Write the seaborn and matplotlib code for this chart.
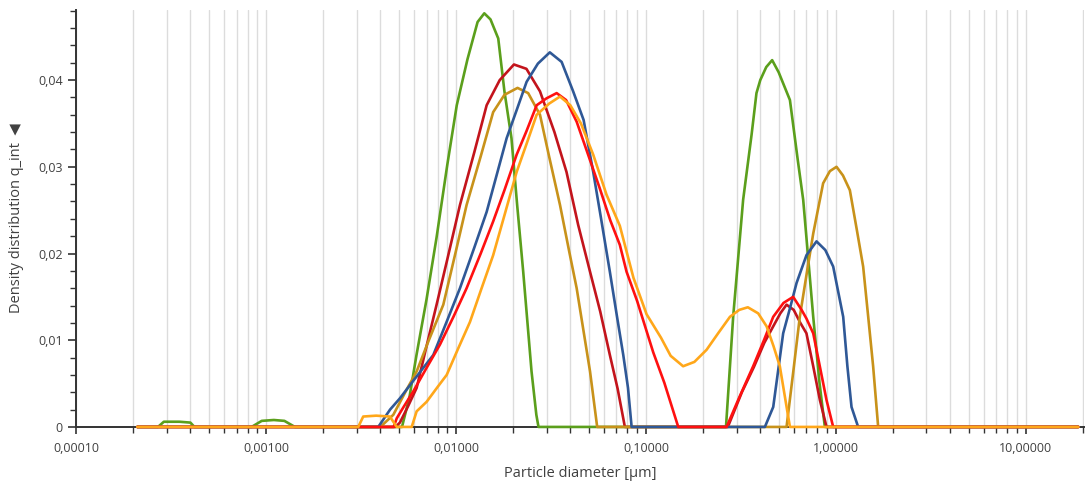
import pandas as pd
import seaborn as sns
import matplotlib
import matplotlib.pyplot as plt
from matplotlib.ticker import FuncFormatter, LogLocator, MultipleLocator, NullFormatter

matplotlib.use('Agg')

# Values (particle diameter in µm, q_int density)
green_x = [0.00021, 0.00027, 0.00029, 0.00035, 0.0004, 0.00042, 0.00084, 0.00095, 0.0011, 0.00125, 0.00142,
           0.0052, 0.0057, 0.0062, 0.007, 0.0079, 0.009, 0.0101, 0.0115, 0.013, 0.0141, 0.0152, 0.0167, 0.018,
           0.0196, 0.021, 0.0226, 0.025, 0.0265, 0.0272,
           0.264, 0.288, 0.325, 0.36, 0.382, 0.40, 0.43, 0.462, 0.50, 0.573, 0.63, 0.673, 0.76, 0.82, 0.875, 18.9]
green_y = [0, 0, 0.0006, 0.0006, 0.0005, 0, 0, 0.0007, 0.0008, 0.0007, 0,
           0, 0.0035, 0.0083, 0.0147, 0.0218, 0.0302, 0.0371, 0.0424, 0.0467, 0.0477, 0.0470, 0.0448, 0.0387,
           0.0333, 0.0256, 0.0179, 0.0064, 0.0014, 0,
           0, 0.0127, 0.0262, 0.0337, 0.0385, 0.0400, 0.0415, 0.0423, 0.0409, 0.0377, 0.0308, 0.0262, 0.0127, 0.0051, 0, 0]

darkred_x = [0.00021, 0.0048, 0.00507, 0.0056, 0.00621, 0.007, 0.00791, 0.009, 0.0105, 0.0125, 0.01451, 0.017,
             0.0202, 0.0235, 0.0277, 0.033, 0.0382, 0.044, 0.0508, 0.0575, 0.0646, 0.071, 0.0775,
             0.27, 0.32, 0.37, 0.42, 0.468, 0.51, 0.55, 0.60, 0.65, 0.70, 0.76, 0.824, 0.893, 18.9]
darkred_y = [0, 0, 0.0005, 0.0024, 0.0045, 0.0093, 0.0141, 0.0193, 0.0256, 0.0317, 0.0371, 0.0400,
             0.0418, 0.0413, 0.0387, 0.0340, 0.0294, 0.0233, 0.0179, 0.0133, 0.0083, 0.0044, 0,
             0, 0.0040, 0.0069, 0.0097, 0.0116, 0.0131, 0.0141, 0.0135, 0.0120, 0.0108, 0.0070, 0.0031, 0, 0]

gold_x = [0.00021, 0.0040, 0.00468, 0.0055, 0.00621, 0.0072, 0.00858, 0.0100, 0.01138, 0.0135, 0.0157, 0.018,
          0.0211, 0.024, 0.0277, 0.031, 0.0353, 0.0395, 0.0432, 0.047, 0.0508, 0.0554,
          0.55, 0.60, 0.646, 0.70, 0.76, 0.857, 0.93, 1.008, 1.09, 1.185, 1.29, 1.392, 1.48, 1.571, 1.67, 18.9]
gold_y = [0, 0, 0.0014, 0.0043, 0.0064, 0.0100, 0.0141, 0.0203, 0.0256, 0.0312, 0.0363, 0.0383,
          0.0391, 0.0385, 0.0360, 0.0311, 0.0256, 0.0202, 0.0160, 0.0110, 0.0064, 0,
          0, 0.0068, 0.0127, 0.0175, 0.0223, 0.0281, 0.0295, 0.0300, 0.0290, 0.0273, 0.0227, 0.0185, 0.0127, 0.0070, 0, 0]

blue_x = [0.00021, 0.0039, 0.0045, 0.00507, 0.006, 0.0076, 0.009, 0.0105, 0.0125, 0.01451, 0.0165, 0.01849,
          0.021, 0.02355, 0.027, 0.0312, 0.036, 0.0414, 0.047, 0.0528, 0.058, 0.0646, 0.070, 0.076, 0.0805, 0.0841,
          0.423, 0.468, 0.528, 0.58, 0.621, 0.70, 0.791, 0.88, 0.968, 1.093, 1.15, 1.209, 1.31, 18.9]
blue_y = [0, 0, 0.0020, 0.0033, 0.0054, 0.0083, 0.0123, 0.0160, 0.0207, 0.0248, 0.0293, 0.0333,
          0.0367, 0.0398, 0.0419, 0.0432, 0.0421, 0.0387, 0.0354, 0.0294, 0.0241, 0.0179, 0.0131, 0.0083, 0.0045, 0,
          0, 0.0023, 0.0108, 0.0141, 0.0166, 0.0198, 0.0214, 0.0204, 0.0185, 0.0127, 0.0070, 0.0023, 0, 0]

red_x = [0.00021, 0.0047, 0.00488, 0.0053, 0.00596, 0.007, 0.00824, 0.0097, 0.01138, 0.0135, 0.0157, 0.018,
         0.02087, 0.0235, 0.0266, 0.030, 0.0339, 0.038, 0.0432, 0.050, 0.0572, 0.065, 0.0729, 0.0791, 0.09,
         0.1093, 0.125, 0.148,
         0.266, 0.31, 0.367, 0.42, 0.468, 0.53, 0.596, 0.66, 0.70, 0.76, 0.83, 0.893, 0.968, 18.9]
red_y = [0, 0, 0.0010, 0.0023, 0.0041, 0.0068, 0.0095, 0.0127, 0.0160, 0.0200, 0.0237, 0.0273,
         0.0314, 0.0341, 0.0371, 0.0379, 0.0385, 0.0377, 0.0352, 0.0312, 0.0275, 0.0238, 0.0210, 0.0179, 0.0145,
         0.0086, 0.0051, 0,
         0, 0.0034, 0.0070, 0.0101, 0.0127, 0.0143, 0.0150, 0.0135, 0.0125, 0.0108, 0.0066, 0.0031, 0, 0]

orange_x = [0.00021, 0.00306, 0.00325, 0.0038, 0.00449, 0.00488, 0.00585, 0.00621, 0.00701, 0.0080, 0.00894,
            0.0103, 0.01185, 0.0136, 0.0157, 0.018, 0.02087, 0.0235, 0.0266, 0.031, 0.0353, 0.040, 0.0455,
            0.0528, 0.062, 0.0729, 0.086, 0.1008, 0.12, 0.135, 0.157, 0.18, 0.2087, 0.24, 0.277, 0.31, 0.344,
            0.39, 0.432, 0.47, 0.507, 0.573, 18.9]
orange_y = [0, 0, 0.0012, 0.0013, 0.0012, 0, 0, 0.0018, 0.0029, 0.0046, 0.0060,
            0.0091, 0.0121, 0.0159, 0.0198, 0.0244, 0.0294, 0.0326, 0.0360, 0.0373, 0.0381, 0.0371, 0.0350,
            0.0314, 0.0268, 0.0232, 0.0172, 0.0130, 0.0103, 0.0082, 0.0070, 0.0075, 0.0089, 0.0108, 0.0127,
            0.0135, 0.0138, 0.0131, 0.0116, 0.0093, 0.0070, 0, 0]

series = [
    ("s1", green_x, green_y, "#5b9f1c"),
    ("s2", darkred_x, darkred_y, "#c3141c"),
    ("s3", gold_x, gold_y, "#c8921a"),
    ("s4", blue_x, blue_y, "#2f5896"),
    ("s5", red_x, red_y, "#ff1010"),
    ("s6", orange_x, orange_y, "#ffa71a"),
]

frames = []
for name, xs, ys, _ in series:
    frames.append(pd.DataFrame({"diameter": xs, "q_int": ys, "sample": name}))
df = pd.concat(frames, ignore_index=True)
palette = {name: col for name, _, _, col in series}

sns.set_style("white")
plt.rcParams['font.family'] = ['Open Sans', 'DejaVu Sans']

fig = plt.figure(figsize=(10.86, 4.93), dpi=100)
ax = fig.add_axes([0.070, 0.134, 0.928, 0.846])

sns.lineplot(data=df, x="diameter", y="q_int", hue="sample", hue_order=list(palette),
             palette=palette, estimator=None, linewidth=1.9, legend=False, ax=ax)
for line in ax.lines:
    line.set_zorder(3)
    line.set_solid_joinstyle("round")
    line.set_clip_on(False)

ax.set_xscale("log")
ax.set_xlim(1e-4, 20.2)
ax.set_ylim(0, 0.0481)

ax.xaxis.set_major_locator(LogLocator(base=10, numticks=12))
ax.xaxis.set_minor_locator(LogLocator(base=10, subs=range(2, 10), numticks=12))
ax.xaxis.set_major_formatter(FuncFormatter(lambda v, p: f"{v:.5f}".replace(".", ",")))
ax.xaxis.set_minor_formatter(NullFormatter())
ax.yaxis.set_major_locator(MultipleLocator(0.01))
ax.yaxis.set_minor_locator(MultipleLocator(0.002))
ax.yaxis.set_major_formatter(FuncFormatter(lambda v, p: "0" if abs(v) < 1e-9 else f"{v:.2f}".replace(".", ",")))

ax.grid(axis="x", which="both", color="#dcdcdc", linewidth=1.0)
ax.grid(axis="y", visible=False)
ax.set_axisbelow(True)

for side in ["top", "right"]:
    ax.spines[side].set_visible(False)
for side in ["left", "bottom"]:
    ax.spines[side].set_color("#333333")
    ax.spines[side].set_linewidth(1.4)

ax.tick_params(axis="both", which="both", direction="out", bottom=True, left=True,
               colors="#333333", labelcolor="#404040", labelsize=9)
ax.tick_params(axis="x", which="major", length=5, width=1.2, pad=6)
ax.tick_params(axis="x", which="minor", length=4, width=1.0)
ax.tick_params(axis="y", which="major", length=6, width=1.2)
ax.tick_params(axis="y", which="minor", length=4, width=1.0)

ax.set_xlabel("Particle diameter [µm]", fontsize=10.5, color="#404040", labelpad=8)
ax.set_ylabel("Density distribution q_int  \u25c0", fontsize=10.5, color="#404040", labelpad=10)

fig.savefig("out.png", dpi=100)
plt.close(fig)
